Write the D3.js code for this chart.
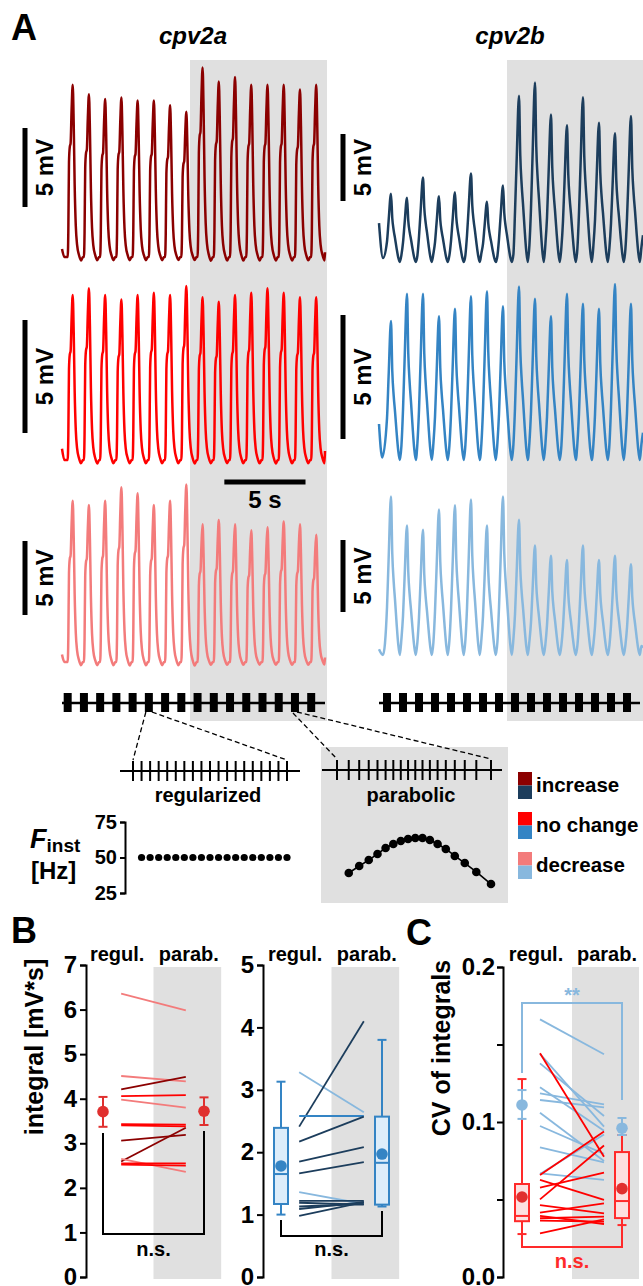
<!DOCTYPE html>
<html>
<head>
<meta charset="utf-8">
<script src="https://cdn.jsdelivr.net/npm/d3@7"></script>
<style>
  body { margin: 0; background: #fff; }
  svg { display: block; font-family: "Liberation Sans", Arial, Helvetica, sans-serif; font-weight: bold; }
</style>
</head>
<body>
<div id="fig"></div>
<script>
// ---------------- data ----------------
// panel A : peak amplitude of each response (mV above baseline), one per stimulus
var amp2aInc = [10.9, 10.3, 10.0, 10.1, 9.9, 9.9, 9.6, 9.2, 12.0, 11.1, 11.4, 10.9, 10.9, 10.9, 10.6, 10.9];
var amp2aNc  = [7.3, 7.6, 7.3, 7.1, 7.3, 7.4, 7.3, 7.7, 7.2, 7.0, 7.3, 7.4, 7.6, 7.4, 7.2, 7.2];
var amp2aDec = [10.9, 10.6, 10.9, 11.8, 11.4, 10.6, 10.9, 12.0, 9.3, 9.6, 9.3, 8.9, 9.1, 9.5, 9.3, 8.6];
var amp2bInc = [5.1, 4.8, 6.3, 4.9, 5.2, 6.6, 4.5, 5.7, 12.4, 13.4, 11.0, 10.2, 12.3, 10.4, 9.6, 10.9];
var amp2bNc  = [5.6, 6.7, 6.7, 5.8, 6.1, 6.6, 6.8, 6.2, 7.0, 6.5, 5.8, 6.7, 6.3, 6.1, 7.1, 6.3];
var amp2bDec = [11.0, 9.0, 8.7, 10.1, 10.4, 10.8, 9.0, 11.0, 9.4, 7.6, 6.9, 6.6, 7.6, 6.6, 6.9, 6.3];

// response shapes [time after stimulus (s), fraction of peak]
var shape2a = [[0, 0], [0.04, 0.15], [0.08, 0.55], [0.13, 0.64], [0.18, 0.66], [0.24, 0.85], [0.31, 1],
               [0.37, 0.78], [0.43, 0.42], [0.5, 0.18], [0.58, 0.07], [0.7, 0.01], [0.82, -0.02], [0.94, 0]];
var shape2b = [[0, 0.3], [0.1, 0.6], [0.25, 1], [0.33, 0.64], [0.42, 0.46], [0.5, 0.35],
               [0.6, 0.2], [0.7, 0.07], [0.8, 0], [0.9, 0.1]];

// instantaneous frequency (Hz) of the two stimulus patterns
var fReg = [50, 50, 50, 50, 50, 50, 50, 50, 50, 50, 50, 50, 50, 50, 50, 50, 50, 50];
var fPar = [39.1, 44.0, 48.2, 52.5, 56.7, 59.5, 61.6, 63.0, 63.7, 63.7, 62.3, 59.5, 56.0, 51.1, 46.1, 39.8, 31.3];

// panel B : integrals (mV*s), regul. -> parab.
var regB2a = [6.36, 4.51, 4.21, 4.06, 3.98, 3.43, 3.40, 3.06, 2.59, 2.65, 2.55, 2.52];
var parB2a = [5.98, 4.39, 4.49, 4.08, 3.80, 3.42, 3.38, 3.19, 3.35, 2.36, 2.55, 2.50];
var grpB2a = ["dec", "dec", "inc", "nc", "dec", "nc", "nc", "inc", "inc", "dec", "nc", "nc"];
var meanB2a = [3.71, 3.72];
var errB2a  = [[3.37, 4.04], [3.41, 4.03]];

var regB2b = [3.28, 2.41, 2.58, 2.17, 1.85, 1.66, 1.36, 1.22, 1.19, 1.13, 1.09, 0.98];
var parB2b = [2.64, 4.10, 2.58, 2.57, 2.08, 1.84, 1.17, 1.22, 1.16, 1.17, 1.20, 1.20];
var grpB2b = ["dec", "inc", "nc", "inc", "inc", "inc", "dec", "inc", "inc", "inc", "inc", "inc"];
var boxB2b  = [[1.00, 1.17, 1.65, 2.39, 3.13], [1.13, 1.16, 1.83, 2.57, 3.80]];
var meanB2b = [1.78, 1.97];

// panel C : CV of integrals
var regCred  = [0.1443, 0.0658, 0.0626, 0.0576, 0.0501, 0.0464, 0.0415, 0.0394, 0.0379, 0.0364, 0.0282];
var parCred  = [0.0776, 0.0938, 0.0497, 0.0673, 0.0848, 0.0411, 0.0475, 0.0342, 0.0389, 0.0357, 0.0372];
var regCblue = [0.1662, 0.1439, 0.1378, 0.1224, 0.1185, 0.1142, 0.1060, 0.0974, 0.0836, 0.0669, 0.0665];
var parCblue = [0.1437, 0.0970, 0.1039, 0.0944, 0.1114, 0.1095, 0.0748, 0.0794, 0.0740, 0.0626, 0.0920];
var boxCred  = [[0.0277, 0.036, 0.0394, 0.060, 0.1277], [0.0335, 0.038, 0.049, 0.0806, 0.0916]];
var meanCred = [0.0516, 0.057];
var meanCblue = [0.111, 0.096];
var errCblue  = [[0.102, 0.1206], [0.0916, 0.1026]];

var legendItems = ["increase", "no change", "decrease"];

// ---------------- colours ----------------
var col = {
  inc2a: "#8b0000", nc2a: "#ff0000", dec2a: "#f37b7b",
  inc2b: "#1c3d5c", nc2b: "#3484c4", dec2b: "#88b8de"
};
var shade = "#e0e0e0";

var svg = d3.select("#fig").append("svg").attr("width", 643).attr("height", 1286);

function txt(x, y, s, size, opt) {
  opt = opt || {};
  var t = svg.append("text").attr("x", x).attr("y", y).attr("font-size", size)
    .attr("text-anchor", opt.anchor || "start").attr("fill", opt.fill || "#000").text(s);
  if (opt.italic) t.attr("font-style", "italic");
  if (opt.rotate) t.attr("transform", "rotate(-90," + x + "," + y + ")");
  return t;
}

function styleAxis(g, size) {
  g.attr("font-family", null).attr("font-size", null);
  g.select(".domain").attr("stroke-width", 2);
  g.selectAll(".tick line").attr("stroke-width", 2);
  g.selectAll(".tick text").attr("font-size", size).attr("fill", "#000");
}

// ================= panel A =================
txt(11, 40, "A", 36);
txt(193, 44, "cpv2a", 24, {anchor: "middle", italic: true});
txt(510, 44, "cpv2b", 24, {anchor: "middle", italic: true});

svg.append("rect").attr("x", 190).attr("y", 60).attr("width", 137).attr("height", 661).attr("fill", shade);
svg.append("rect").attr("x", 507).attr("y", 60).attr("width", 136).attr("height", 661).attr("fill", shade);

var xA = d3.scaleLinear().domain([0, 16.2]).range([62, 325]);
var xB = d3.scaleLinear().domain([0, 16.5]).range([379, 643]);

function drawTrace(amps, o) {
  var y = d3.scaleLinear().domain([0, 5]).range([o.base, o.base - 5 * o.ppm]);
  var tMax = o.x.domain()[1];
  var pts = o.lead.slice();
  amps.forEach(function(a, i) {
    var t0 = o.onset + i;
    o.shape.forEach(function(p) { pts.push([t0 + p[0], p[1] * a]); });
  });
  pts = pts.filter(function(p) { return p[0] < tMax; });
  pts.push([tMax, o.tail]);
  svg.append("path").datum(pts)
    .attr("d", d3.line().x(function(p) { return o.x(p[0]); }).y(function(p) { return y(p[1]); }).curve(d3.curveMonotoneX))
    .attr("fill", "none").attr("stroke", o.color).attr("stroke-width", 2.5).attr("stroke-linejoin", "round");
  // 5 mV scale bar
  var len = y(0) - y(5);
  svg.append("line").attr("x1", o.barX).attr("x2", o.barX).attr("y1", o.barTop).attr("y2", o.barTop + len)
    .attr("stroke", "#000").attr("stroke-width", 5);
  txt(o.barX + 28, o.barTop + len / 2, "5 mV", 24, {anchor: "middle", rotate: true});
}

var leadA = [[0, 0.5], [0.15, 0]];
drawTrace(amp2aInc, {x: xA, base: 257, ppm: 15.8, onset: 0.35, shape: shape2a, lead: leadA, tail: 0.3, color: col.inc2a, barX: 25, barTop: 128});
drawTrace(amp2aNc,  {x: xA, base: 460, ppm: 22.6, onset: 0.35, shape: shape2a, lead: leadA, tail: 0.4, color: col.nc2a,  barX: 25, barTop: 320});
drawTrace(amp2aDec, {x: xA, base: 662, ppm: 14.8, onset: 0.35, shape: shape2a, lead: leadA, tail: 0.3, color: col.dec2a, barX: 25, barTop: 541});
drawTrace(amp2bInc, {x: xB, base: 262, ppm: 13.4, onset: 0.5, shape: shape2b, lead: [[0, 2.9], [0.25, 0.3]], tail: 2.0, color: col.inc2b, barX: 343, barTop: 134});
drawTrace(amp2bNc,  {x: xB, base: 460, ppm: 24.8, onset: 0.5, shape: shape2b, lead: [[0, 1.45], [0.2, 0.1]], tail: 1.1, color: col.nc2b,  barX: 343, barTop: 315});
drawTrace(amp2bDec, {x: xB, base: 655, ppm: 14.4, onset: 0.5, shape: shape2b, lead: [[0, 0.4], [0.25, 0]], tail: 0.5, color: col.dec2b, barX: 343, barTop: 540});

// 5 s time bar
svg.append("line").attr("x1", xA(10)).attr("x2", xA(15)).attr("y1", 482).attr("y2", 482).attr("stroke", "#000").attr("stroke-width", 5);
txt((xA(10) + xA(15)) / 2, 508, "5 s", 24, {anchor: "middle"});

// stimulus trains
function pulseTrain(x, onset, x2) {
  var yc = 703;
  svg.append("line").attr("x1", x.range()[0]).attr("x2", x2).attr("y1", yc).attr("y2", yc).attr("stroke", "#000").attr("stroke-width", 2.5);
  svg.selectAll(null).data(d3.range(16)).enter().append("rect")
    .attr("x", function(i) { return x(onset + i) - 4; }).attr("y", yc - 10).attr("width", 8).attr("height", 19).attr("fill", "#000");
}
pulseTrain(xA, 0.35, 325);
pulseTrain(xB, 0.5, 640);

// parabolic box
svg.append("rect").attr("x", 321).attr("y", 747).attr("width", 187).attr("height", 156).attr("fill", shade);

// dashed zoom lines
var dash = "5,3";
function dline(x1, y1, x2, y2) {
  svg.append("line").attr("x1", x1).attr("y1", y1).attr("x2", x2).attr("y2", y2)
    .attr("stroke", "#000").attr("stroke-width", 1.3).attr("stroke-dasharray", dash);
}

// spike trains from frequency
function spikeTimes(f) {
  var t = [0];
  f.forEach(function(v) { t.push(t[t.length - 1] + 1 / v); });
  return t;
}
var tReg = spikeTimes(fReg), tPar = spikeTimes(fPar);
var xReg = d3.scaleLinear().domain([0, tReg[tReg.length - 1]]).range([133, 287]);
var xPar = d3.scaleLinear().domain([0, tPar[tPar.length - 1]]).range([337, 491]);

dline(xA(5.35) - 3, 712, xReg(0), 760);
dline(xA(5.35) + 3, 712, xReg.range()[1], 760);
dline(xA(14.35) - 2, 713, xPar(0), 759);
dline(xA(14.35) + 2, 712, xPar.range()[1], 759);

function tickTrain(x, times, y0, lx1, lx2) {
  svg.append("line").attr("x1", lx1).attr("x2", lx2).attr("y1", y0).attr("y2", y0).attr("stroke", "#000").attr("stroke-width", 2);
  svg.selectAll(null).data(times).enter().append("line")
    .attr("x1", function(t) { return x(t); }).attr("x2", function(t) { return x(t); })
    .attr("y1", y0 - 10).attr("y2", y0 + 10).attr("stroke", "#000").attr("stroke-width", 2);
}
tickTrain(xReg, tReg, 771, 120, 300);
tickTrain(xPar, tPar, 770, 322, 502);
txt(208, 802, "regularized", 20, {anchor: "middle"});
txt(411, 802, "parabolic", 20, {anchor: "middle"});

// F_inst plot
var yF = d3.scaleLinear().domain([25, 75]).range([893, 822]);
var gF = svg.append("g").attr("transform", "translate(125,0)")
  .call(d3.axisLeft(yF).tickValues([25, 50, 75]).tickSize(5).tickPadding(3));
styleAxis(gF, 20);
var fl = svg.append("text").attr("x", 30).attr("y", 848);
fl.append("tspan").attr("font-size", 27).attr("font-style", "italic").text("F");
fl.append("tspan").attr("font-size", 19).attr("dy", 4).text("inst");
txt(31, 879, "[Hz]", 24);

svg.selectAll(null).data(fReg).enter().append("circle")
  .attr("cx", function(d, i) { return xReg(tReg[i + 1]); }).attr("cy", function(d) { return yF(d); })
  .attr("r", 3.6).attr("fill", "#000");
var parPts = fPar.map(function(d, i) { return [xPar(tPar[i + 1]), yF(d)]; });
svg.append("path").datum(parPts).attr("d", d3.line()).attr("fill", "none").attr("stroke", "#000").attr("stroke-width", 1.6);
svg.selectAll(null).data(parPts).enter().append("circle")
  .attr("cx", function(d) { return d[0]; }).attr("cy", function(d) { return d[1]; }).attr("r", 4.3).attr("fill", "#000");

// legend
var legCols = [[col.inc2a, col.inc2b], [col.nc2a, col.nc2b], [col.dec2a, col.dec2b]];
legendItems.forEach(function(name, i) {
  var yb = 792 + i * 40;
  svg.append("rect").attr("x", 518).attr("y", yb - 20).attr("width", 14).attr("height", 13.5).attr("fill", legCols[i][0]);
  svg.append("rect").attr("x", 518).attr("y", yb - 6.5).attr("width", 14).attr("height", 13.5).attr("fill", legCols[i][1]);
  txt(536, yb, name, 20.5);
});

// ================= panel B / C helpers =================
var yTop = 967, yBot = 1279;

function headers(pos) {
  txt(pos(0.14), 961, "regul.", 20, {anchor: "middle"});
  txt(pos(0.85), 961, "parab.", 20, {anchor: "middle"});
  svg.append("rect").attr("x", pos(0.5)).attr("y", yTop).attr("width", pos(1.17) - pos(0.5)).attr("height", yBot - yTop).attr("fill", shade);
}

function pairLines(pos, y, a, b, colors) {
  svg.selectAll(null).data(a).enter().append("line")
    .attr("x1", pos(0.18)).attr("x2", pos(0.82))
    .attr("y1", function(d) { return y(d); }).attr("y2", function(d, i) { return y(b[i]); })
    .attr("stroke", function(d, i) { return colors[i]; }).attr("stroke-width", 1.8);
}

function meanErr(xc, y, m, e, color) {
  var g = svg.append("g").attr("stroke", color).attr("stroke-width", 2);
  g.append("line").attr("x1", xc).attr("x2", xc).attr("y1", y(e[0])).attr("y2", y(e[1]));
  [e[0], e[1]].forEach(function(v) {
    g.append("line").attr("x1", xc - 4.5).attr("x2", xc + 4.5).attr("y1", y(v)).attr("y2", y(v));
  });
  svg.append("circle").attr("cx", xc).attr("cy", y(m)).attr("r", 5.8).attr("fill", color);
}

function boxPlot(xc, y, st, m, stroke, fill, dot) {
  var g = svg.append("g").attr("stroke", stroke).attr("stroke-width", 2);
  g.append("line").attr("x1", xc).attr("x2", xc).attr("y1", y(st[0])).attr("y2", y(st[1]));
  g.append("line").attr("x1", xc).attr("x2", xc).attr("y1", y(st[3])).attr("y2", y(st[4]));
  [st[0], st[4]].forEach(function(v) {
    g.append("line").attr("x1", xc - 4.5).attr("x2", xc + 4.5).attr("y1", y(v)).attr("y2", y(v));
  });
  g.append("rect").attr("x", xc - 7).attr("y", y(st[3])).attr("width", 14).attr("height", y(st[1]) - y(st[3])).attr("fill", fill);
  g.append("line").attr("x1", xc - 7).attr("x2", xc + 7).attr("y1", y(st[2])).attr("y2", y(st[2]));
  svg.append("circle").attr("cx", xc).attr("cy", y(m)).attr("r", 5.8).attr("fill", dot);
}

function bracket(pos, yl, yb, yr, color, label, ly) {
  svg.append("path").attr("d", "M" + pos(0) + "," + yl + "V" + yb + "H" + pos(1) + "V" + yr)
    .attr("fill", "none").attr("stroke", color).attr("stroke-width", 2);
  txt(pos(0.5), ly, label, 20, {anchor: "middle", fill: color});
}

var grpCol2a = {inc: col.inc2a, nc: col.nc2a, dec: col.dec2a};
var grpCol2b = {inc: col.inc2b, nc: col.nc2b, dec: col.dec2b};

// ================= panel B (cpv2a) =================
txt(11, 943, "B", 36);
var posB1 = d3.scaleLinear().domain([0, 1]).range([103, 204]);
var yB1 = d3.scaleLinear().domain([0, 7]).range([1277, 965]);
headers(posB1);
pairLines(posB1, yB1, regB2a, parB2a, grpB2a.map(function(g) { return grpCol2a[g]; }));
meanErr(posB1(0), yB1, meanB2a[0], errB2a[0], "#e0302f");
meanErr(posB1(1), yB1, meanB2a[1], errB2a[1], "#e0302f");
bracket(posB1, 1133, 1234, 1131, "#000", "n.s.", 1256);
var gB1 = svg.append("g").attr("transform", "translate(86,0)")
  .call(d3.axisLeft(yB1).ticks(7).tickFormat(d3.format("d")).tickSize(6).tickPadding(3));
styleAxis(gB1, 24);
txt(43, 1047, "integral [mV*s]", 25, {anchor: "middle", rotate: true});

// ================= panel B (cpv2b) =================
var posB2 = d3.scaleLinear().domain([0, 1]).range([281, 382]);
var yB2 = d3.scaleLinear().domain([0, 5]).range([1277, 965]);
headers(posB2);
pairLines(posB2, yB2, regB2b, parB2b, grpB2b.map(function(g) { return grpCol2b[g]; }));
boxPlot(posB2(0), yB2, boxB2b[0], meanB2b[0], col.nc2b, "#ddedfa", col.nc2b);
boxPlot(posB2(1), yB2, boxB2b[1], meanB2b[1], col.nc2b, "#ddedfa", col.nc2b);
bracket(posB2, 1220, 1236, 1211, "#000", "n.s.", 1256);
var gB2 = svg.append("g").attr("transform", "translate(263,0)")
  .call(d3.axisLeft(yB2).ticks(5).tickFormat(d3.format("d")).tickSize(6).tickPadding(3));
styleAxis(gB2, 24);

// ================= panel C =================
txt(406, 945, "C", 36);
var posC = d3.scaleLinear().domain([0, 1]).range([522, 622]);
var yC = d3.scaleLinear().domain([0, 0.2]).range([1277, 967]);
headers(posC);
pairLines(posC, yC, regCblue, parCblue, regCblue.map(function() { return col.dec2b; }));
pairLines(posC, yC, regCred, parCred, regCred.map(function() { return col.nc2a; }));
boxPlot(posC(0), yC, boxCred[0], meanCred[0], "#ff2a2a", "#fde0e0", "#e0302f");
boxPlot(posC(1), yC, boxCred[1], meanCred[1], "#ff2a2a", "#fde0e0", "#e0302f");
meanErr(posC(0), yC, meanCblue[0], errCblue[0], col.dec2b);
meanErr(posC(1), yC, meanCblue[1], errCblue[1], col.dec2b);
bracket(posC, 1073, 1003, 1100, col.dec2b, "**", 1002);
bracket(posC, 1234, 1247, 1225, "#ff2a2a", "n.s.", 1268);
var gC = svg.append("g").attr("transform", "translate(503,0)")
  .call(d3.axisLeft(yC).tickValues([0, 0.05, 0.1, 0.15, 0.2]).tickSize(6).tickPadding(2)
    .tickFormat(function(d) { return (Math.round(d * 100) % 10 === 0) ? d3.format(".1f")(d) : ""; }));
styleAxis(gC, 24);
txt(450, 1048, "CV of integrals", 25, {anchor: "middle", rotate: true});
</script>
</body>
</html>
